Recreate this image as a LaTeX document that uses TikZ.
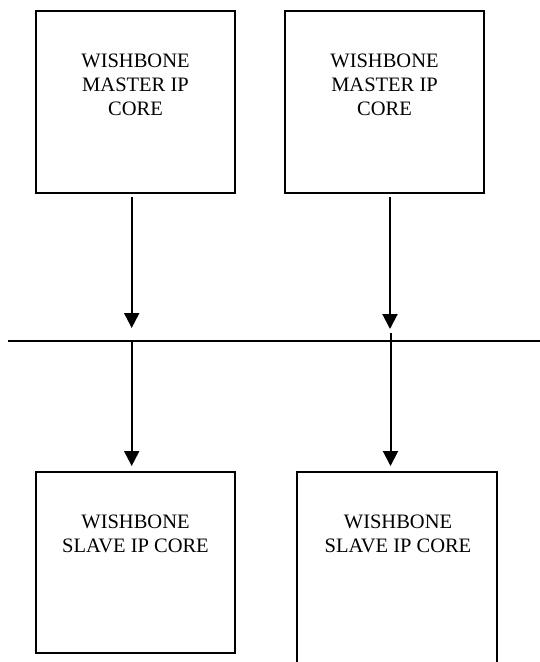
\documentclass[tikz,border=0pt]{standalone}
\usepackage{fontspec}
\setmainfont{Liberation Serif}
\usetikzlibrary{arrows.meta}
\begin{document}
\begin{tikzpicture}[x=1pt,y=-1pt,
  box/.style={draw=black, line width=2pt, inner sep=0pt, minimum width=199pt},
  txt/.style={align=center, inner sep=0pt, anchor=north, font=\fontsize{20.5}{24}\selectfont},
  conn/.style={line width=2pt, -{Triangle[width=15pt,length=15pt]}},
  bus/.style={line width=1.5pt}]
\useasboundingbox (0,0) rectangle (540,662);
% master boxes
\node[box, minimum height=182pt] (m1) at (135.35,101.5) {};
\node[box, minimum height=182pt] (m2) at (384.5,101.5) {};
\node[txt] (m1t) at (135.5,54) {WISHBONE\\MASTER IP\\CORE};
\node[txt] (m2t) at (384.5,54) {WISHBONE\\MASTER IP\\CORE};
% slave boxes
\node[box, minimum height=181pt] (s1) at (135.35,562.5) {};
\node[box, minimum height=210pt, minimum width=200pt] (s2) at (397,577) {};
\node[txt] (s1t) at (135.5,515) {WISHBONE\\SLAVE IP CORE};
\node[txt] (s2t) at (398,515) {WISHBONE\\SLAVE IP CORE};
% bus
\coordinate (busL) at (8,341);
\coordinate (busR) at (540,341);
\draw[bus] (busL) -- (busR);
% connector points
\coordinate (a1s) at (131.7,197);
\coordinate (a1e) at (131.7,328);
\coordinate (a2s) at (390,197);
\coordinate (a2e) at (390,329);
\coordinate (b1s) at (131.7,341);
\coordinate (b1e) at (131.7,466);
\coordinate (b2s) at (390.5,333);
\coordinate (b2e) at (390.5,466);
\draw[conn] (a1s) -- (a1e);
\draw[conn] (a2s) -- (a2e);
\draw[conn] (b1s) -- (b1e);
\draw[conn] (b2s) -- (b2e);
\end{tikzpicture}
\end{document}
